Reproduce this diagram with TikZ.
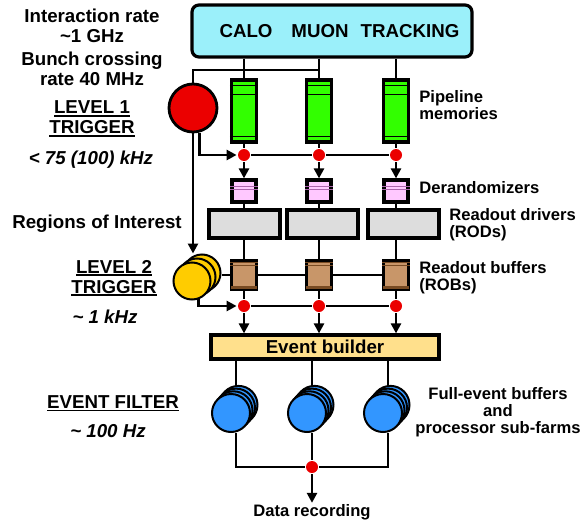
\documentclass[tikz,border=0pt]{standalone}
\usepackage{fontspec}
\setmainfont{Liberation Sans}
\usetikzlibrary{arrows.meta}
\definecolor{detcyan}{RGB}{155,240,250}
\definecolor{l1red}{RGB}{235,0,0}
\definecolor{pipegreen}{RGB}{50,255,0}
\definecolor{derpink}{RGB}{255,200,255}
\definecolor{derline}{RGB}{170,100,170}
\definecolor{rodgray}{RGB}{221,221,221}
\definecolor{robbrown}{RGB}{200,150,105}
\definecolor{robdark}{RGB}{120,75,35}
\definecolor{l2yellow}{RGB}{255,204,0}
\definecolor{ebyellow}{RGB}{255,224,140}
\definecolor{efblue}{RGB}{50,150,255}
\newcommand{\ulab}[1]{\setbox0\hbox{#1}\rlap{\rule[-3pt]{\wd0}{1.6pt}}\box0}

\begin{document}
\begin{tikzpicture}[x=1pt, y=-1pt, line width=2.8pt,
	big/.style={font=\bfseries\fontsize{18.7}{20}\selectfont, align=center, inner sep=0pt},
	small/.style={font=\bfseries\fontsize{16.6}{17}\selectfont, align=left, inner sep=0pt},
	arr/.style={-{Triangle[length=10pt,width=10pt]}},
	blk/.style={draw, line width=3.2pt, inner sep=0pt},
	pipe/.style={blk, fill=pipegreen, minimum width=25pt, minimum height=62pt},
	derand/.style={blk, fill=derpink, minimum width=24pt, minimum height=22pt},
	rodbox/.style={blk, fill=rodgray, minimum width=71pt, minimum height=28pt},
	robbox/.style={blk, fill=robbrown, minimum width=25pt, minimum height=29pt},
	reddot/.style={circle, fill=l1red, minimum size=12pt, inner sep=0pt},
	l2disk/.style={circle, draw, line width=2pt, fill=l2yellow, minimum size=37pt, inner sep=0pt},
	efdisk/.style={circle, draw, line width=2pt, fill=efblue, minimum size=38pt, inner sep=0pt}]
	\useasboundingbox (0,0) rectangle (581,522);
	% detectors and event builder
	\node [blk, rounded corners=7pt, fill=detcyan, minimum width=280pt, minimum height=52pt] (det) at (332,31) {};
	\node [big] (calo) at (246,31) {CALO};
	\node [big] (muon) at (320,31) {MUON};
	\node [big] (trk) at (410,31) {TRACKING};
	\node [blk, fill=ebyellow, minimum width=228pt, minimum height=24pt, font=\bfseries\fontsize{18.7}{20}\selectfont] (eb) at (325,347) {Event builder};
	% readout columns
	\foreach \i/\x/\r in {1/244/244.5, 2/319/322.5, 3/396/403.5} {
		\node [pipe] (pipe\i) at (\x,111) {};
		\draw [line width=1.5pt] ([yshift=-7pt]pipe\i.north west) -- ([yshift=-7pt]pipe\i.north east)
			([yshift=-16pt]pipe\i.north west) -- ([yshift=-16pt]pipe\i.north east)
			([yshift=7pt]pipe\i.south west) -- ([yshift=7pt]pipe\i.south east);
		\node [reddot] (dA\i) at (\x,155) {};
		\node [derand] (der\i) at (\x,191) {};
		\draw [line width=1pt, derline] ([yshift=-8pt]der\i.north west) -- ([yshift=-8pt]der\i.north east)
			([yshift=-11pt]der\i.north west) -- ([yshift=-11pt]der\i.north east);
		\node [rodbox] (rod\i) at (\r,224) {};
		\node [robbox] (rob\i) at (\x,275) {};
		\draw [line width=1pt, robdark] ([yshift=-4pt]rob\i.north west) -- ([yshift=-4pt]rob\i.north east)
			([yshift=-7pt]rob\i.north west) -- ([yshift=-7pt]rob\i.north east);
		\draw [line width=3pt, robdark] ([yshift=4pt,xshift=1.5pt]rob\i.south west) -- ([yshift=4pt,xshift=-1.5pt]rob\i.south east);
		\node [reddot] (dB\i) at (\x,306) {};
		\draw (pipe\i.north |- det.south) -- (pipe\i.north);
		\draw (pipe\i.south) -- (dA\i.north);
		\draw [arr] (dA\i.south) -- (der\i.north);
		\draw (der\i.south) -- (der\i.south |- rod\i.north);
		\draw (rob\i.north |- rod\i.south) -- (rob\i.north);
		\draw (rob\i.south) -- (dB\i.north);
		\draw [arr] (dB\i.south) -- (dB\i.south |- eb.north);
	}
	\draw (dA1.east) -- (dA2.west) (dA2.east) -- (dA3.west);
	\draw (dB1.east) -- (dB2.west) (dB2.east) -- (dB3.west);
	\draw (rob1.east) -- (rob2.west) (rob2.east) -- (rob3.west);
	% level 1 trigger
	\node [circle, draw, line width=2.8pt, fill=l1red, minimum size=48pt, inner sep=0pt] (l1) at (193,108) {};
	\coordinate (tap) at (319,70);
	\draw (tap) -| (l1.north);
	\draw [arr] (l1.-75) |- (dA1.west);
	% level 2 trigger
	\node [l2disk] (l2c) at (202,273) {};
	\node [l2disk] (l2b) at (197,277) {};
	\node [l2disk] (l2a) at (192,281) {};
	\draw [arr] (l1.south) -- (l1.south |- l2c.north);
	\draw (l2c.east |- rob1.west) -- (rob1.west);
	\draw [arr] (l2a.-70) |- (dB1.west);
	% event filter
	\node [reddot] (dC) at (312,467) {};
	\node [small, align=center] (rec) at (312,512) {Data recording};
	\foreach \i/\x in {1/231, 2/307, 3/383} {
		\foreach \k in {3,2,1,0}
			\node [efdisk] (ef\i\k) at ({\x+2.5*\k},{413-2.7*\k}) {};
		\draw (eb.south -| ef\i2) -- (ef\i2 |- ef\i3.north);
	}
	\draw (ef12 |- ef10.south) |- (dC.west);
	\draw (ef32 |- ef30.south) |- (dC.east);
	\draw (ef22 |- ef20.south) -- (dC.north);
	\draw [arr] (dC.south) -- (rec.north);
	% labels left
	\node [big] (intr) at (92,26) {Interaction rate\\\textasciitilde1 GHz};
	\node [big] (bunch) at (92,69) {Bunch crossing\\rate 40 MHz};
	\node [big] (lvl1) at (92,119) {\ulab{LEVEL 1}\\\ulab{TRIGGER}};
	\node [big, font=\bfseries\itshape\fontsize{18.7}{20}\selectfont] (rate1) at (91,160) {< 75 (100) kHz};
	\node [big] (roi) at (97,224) {Regions of Interest};
	\node [big] (lvl2) at (114,278) {\ulab{LEVEL 2}\\\ulab{TRIGGER}};
	\node [big, font=\bfseries\itshape\fontsize{18.7}{20}\selectfont] (rate2) at (105,317) {\textasciitilde\ 1 kHz};
	\node [big] (efl) at (113,403.5) {\ulab{EVENT FILTER}};
	\node [big, font=\bfseries\itshape\fontsize{18.7}{20}\selectfont] (rate3) at (108,431) {\textasciitilde\ 100 Hz};
	% labels right
	\node [small, anchor=west] (pipel) at (418,105) {Pipeline\\memories};
	\node [small, anchor=west] (derl) at (418,188) {Derandomizers};
	\node [small, anchor=west] (rodl) at (448,225) {Readout drivers\\(RODs)};
	\node [small, anchor=west] (robl) at (418,278) {Readout buffers\\(ROBs)};
	\node [small, align=center] (efbl) at (498,412) {Full-event buffers\\and\\processor sub-farms};
\end{tikzpicture}
\end{document}
